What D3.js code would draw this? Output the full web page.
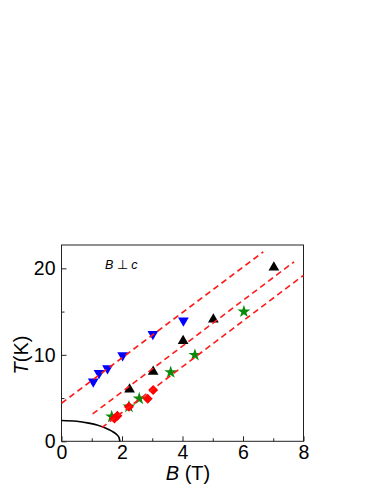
<!DOCTYPE html>
<html>
<head>
<meta charset="utf-8">
<script src="https://cdn.jsdelivr.net/npm/d3@7"></script>
<style>
  body { margin: 0; background: #fff; }
  svg { display: block; font-family: "Liberation Sans", Arial, sans-serif; }
</style>
</head>
<body>
<svg id="chart" width="382" height="494"></svg>
<script>
// data (B in tesla, T in kelvin)
const blueB = [1.05, 1.24, 1.52, 2.02, 3.02, 4.03];
const blueT = [6.9, 7.9, 8.45, 9.95, 12.4, 13.95];
const blackB = [2.25, 3.03, 4.02, 5.02, 7.02];
const blackT = [6.0, 8.05, 11.6, 14.1, 20.1];
const greenB = [1.66, 2.23, 2.57, 3.61, 4.41, 6.03];
const greenT = [2.85, 4.0, 4.93, 7.98, 9.98, 15.0];
const redB = [1.75, 1.85, 2.23, 2.85, 3.03];
const redT = [2.65, 2.95, 4.0, 4.93, 5.93];
const curveB = [0, 0.5, 0.9, 1.2, 1.45, 1.65, 1.8, 1.9, 1.93];
const curveT = [2.4, 2.32, 2.1, 1.85, 1.55, 1.2, 0.85, 0.45, 0];
// dashed guide lines, start and end points
const lineStartB = [0, 1.03, 1.33];
const lineStartT = [4.4, 3.16, 1.57];
const lineEndB = [6.67, 7.69, 8.0];
const lineEndT = [21.9, 20.76, 19.2];
const xTicks = [0, 2, 4, 6, 8];
const xMinor = [1, 3, 5, 7];
const yTicks = [0, 10, 20];
const yMinor = [5, 15];

const svg = d3.select("#chart");
const plotL = 61.5, plotR = 303.5, plotT = 245, plotB = 441.3;

const x = d3.scaleLinear().domain([0, 8]).range([plotL, plotR]);
const y = d3.scaleLinear().domain([0, 22.7]).range([plotB, plotT]);

// minor ticks
svg.append("g")
  .attr("transform", `translate(0,${plotB})`)
  .call(d3.axisBottom(x).tickValues(xMinor).tickSize(-3).tickFormat(""))
  .call(g => g.select(".domain").remove());
svg.append("g")
  .attr("transform", `translate(${plotL},0)`)
  .call(d3.axisLeft(y).tickValues(yMinor).tickSize(-3).tickFormat(""))
  .call(g => g.select(".domain").remove());

// major ticks + labels
const xAxis = svg.append("g")
  .attr("transform", `translate(0,${plotB})`)
  .call(d3.axisBottom(x).tickValues(xTicks).tickSize(-5).tickPadding(4).tickFormat(d3.format("d")));
const yAxis = svg.append("g")
  .attr("transform", `translate(${plotL},0)`)
  .call(d3.axisLeft(y).tickValues(yTicks).tickSize(-5).tickPadding(6).tickFormat(d3.format("d")));

[xAxis, yAxis].forEach(a => {
  a.select(".domain").remove();
  a.selectAll("text").attr("font-size", 19.5).attr("fill", "#000")
    .attr("font-family", "Liberation Sans, Arial, sans-serif");
});
svg.selectAll(".tick line").attr("stroke", "#222");

// frame
svg.append("rect")
  .attr("x", plotL).attr("y", plotT)
  .attr("width", plotR - plotL).attr("height", plotB - plotT)
  .attr("fill", "none").attr("stroke", "#222").attr("stroke-width", 1);

// superconducting boundary
const curvePts = curveB.map((b, i) => [b, curveT[i]]);
svg.append("path")
  .datum(curvePts)
  .attr("fill", "none")
  .attr("stroke", "#000")
  .attr("stroke-width", 1.6)
  .attr("d", d3.line().x(d => x(d[0])).y(d => y(d[1])).curve(d3.curveMonotoneX));

// markers
function drawSeries(bs, ts, type, size, color, rot) {
  svg.append("g").selectAll("path")
    .data(bs.map((b, i) => [b, ts[i]]))
    .join("path")
    .attr("transform", d => `translate(${x(d[0])},${y(d[1])}) rotate(${rot})`)
    .attr("d", d3.symbol().type(type).size(size))
    .attr("fill", color);
}
drawSeries(blueB, blueT, d3.symbolTriangle, 50, "#0000ff", 180);
drawSeries(blackB, blackT, d3.symbolTriangle, 50, "#000", 0);
drawSeries(greenB, greenT, d3.symbolStar, 52, "#0a8a0a", 0);
drawSeries(redB, redT, d3.symbolSquare, 50, "#ff0000", 45);

// dashed lines
lineStartB.forEach((b, i) => {
  svg.append("line")
    .attr("x1", x(b)).attr("y1", y(lineStartT[i]))
    .attr("x2", x(lineEndB[i])).attr("y2", y(lineEndT[i]))
    .attr("stroke", "#ff1a1a")
    .attr("stroke-width", 1.6)
    .attr("stroke-dasharray", "6,4");
});

// annotation
const ann = svg.append("text").attr("x", 105).attr("y", 269).attr("font-size", 12.5);
ann.append("tspan").attr("font-style", "italic").text("B");
ann.append("tspan").text(" \u22A5 ");
ann.append("tspan").attr("font-style", "italic").text("c");

// axis titles
const xt = svg.append("text").attr("x", 188).attr("y", 480)
  .attr("text-anchor", "middle").attr("font-size", 20);
xt.append("tspan").attr("font-style", "italic").text("B");
xt.append("tspan").text(" (T)");

const yt = svg.append("text")
  .attr("transform", "translate(28,355) rotate(-90)")
  .attr("text-anchor", "middle").attr("font-size", 20);
yt.append("tspan").attr("font-style", "italic").text("T");
yt.append("tspan").text("(K)");
</script>
</body>
</html>
